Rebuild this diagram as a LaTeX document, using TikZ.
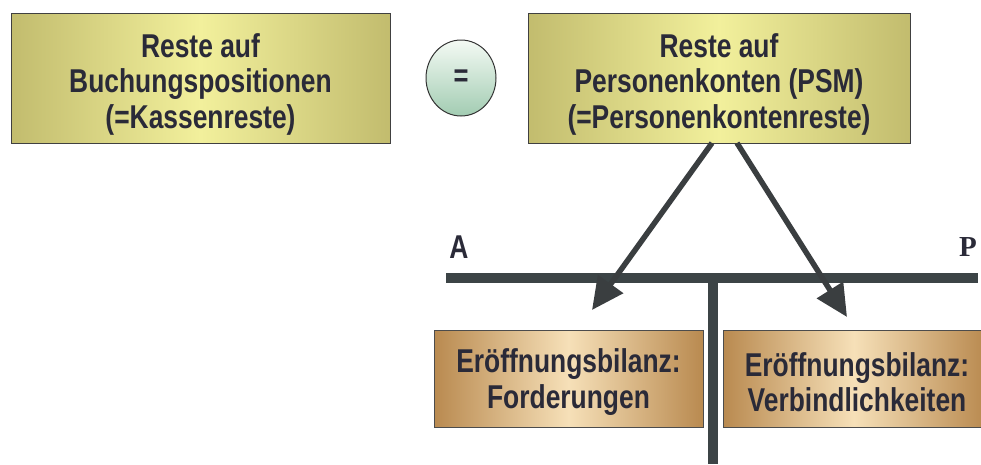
\documentclass[tikz,border=0pt]{standalone}
\usepackage{fontspec}
\setmainfont[FakeStretch=0.8]{Liberation Sans}
\newfontfamily\pserif{Liberation Serif}
\usetikzlibrary{arrows.meta,shapes.geometric}
\definecolor{txt}{HTML}{2A2A38}
\definecolor{bar}{HTML}{3C4446}
\definecolor{arr}{HTML}{3A3E40}
\definecolor{yedge}{HTML}{C2BC6E}
\definecolor{ymid}{HTML}{F2F09C}
\definecolor{oedge}{HTML}{B98A50}
\definecolor{omid}{HTML}{F6E0B8}
\definecolor{gtop}{HTML}{F4FAF4}
\definecolor{gbot}{HTML}{A2CCB2}
\tikzset{
  yellowbox/.style={draw=black!75, line width=1pt, left color=yedge, right color=yedge, middle color=ymid, inner sep=0pt},
  orangebox/.style={draw=black!70, line width=1pt, left color=oedge, right color=oedge, middle color=omid, inner sep=0pt},
  boxtext/.style={text=txt, font=\bfseries\fontsize{33}{35.5}\selectfont, align=center},
  flowarrow/.style={draw=arr, line width=5.5pt, -{Triangle[length=32pt,width=30pt]}},
  barline/.style={draw=bar, line width=9.5pt},
}
\begin{document}
\begin{tikzpicture}[x=1pt,y=-1pt]
\useasboundingbox (0,0) rectangle (981,464);
% top boxes
\path[yellowbox] (11,13) rectangle (390,143);
\node[boxtext] (b1) at (200.5,84) {Reste auf\\Buchungspositionen\\(=Kassenreste)};
\path[yellowbox] (528,13) rectangle (910,143);
\node[boxtext] (b2) at (719,84) {Reste auf\\Personenkonten (PSM)\\(=Personenkontenreste)};
% equals circle
\node[ellipse, draw=black!80, line width=1pt, minimum width=70pt, minimum height=76pt, top color=gtop, bottom color=gbot, text=txt, font=\bfseries\fontsize{32}{35}\selectfont] (eq) at (461,78) {=};
% bottom boxes
\path[orangebox] (434,330) rectangle (703,427);
\node[boxtext] (c1) at (568.5,382) {Eröffnungsbilanz:\\Forderungen};
\path[orangebox] (723,330) rectangle (985,427);
\node[boxtext] (c2) at (857,382) {Eröffnungsbilanz:\\Verbindlichkeiten};
% T-account
\coordinate (bl) at (446,278);
\coordinate (br) at (978,278);
\coordinate (vt) at (713,278);
\coordinate (vb) at (713,464);
\draw[barline] (bl) -- (br);
\draw[barline, line width=10pt] (vt) -- (vb);
\node[text=txt, font=\bfseries\fontsize{33}{36}\selectfont] (A) at (459,247) {A};
\node[text=txt, font=\pserif\bfseries\fontsize{29}{32}\selectfont] (P) at (968,247) {P};
% arrows
\coordinate (s1) at (712,143);
\coordinate (t1) at (592,310);
\coordinate (s2) at (737,143);
\coordinate (t2) at (847,317);
\draw[flowarrow] (s1) -- (t1);
\draw[flowarrow] (s2) -- (t2);
\end{tikzpicture}
\end{document}
